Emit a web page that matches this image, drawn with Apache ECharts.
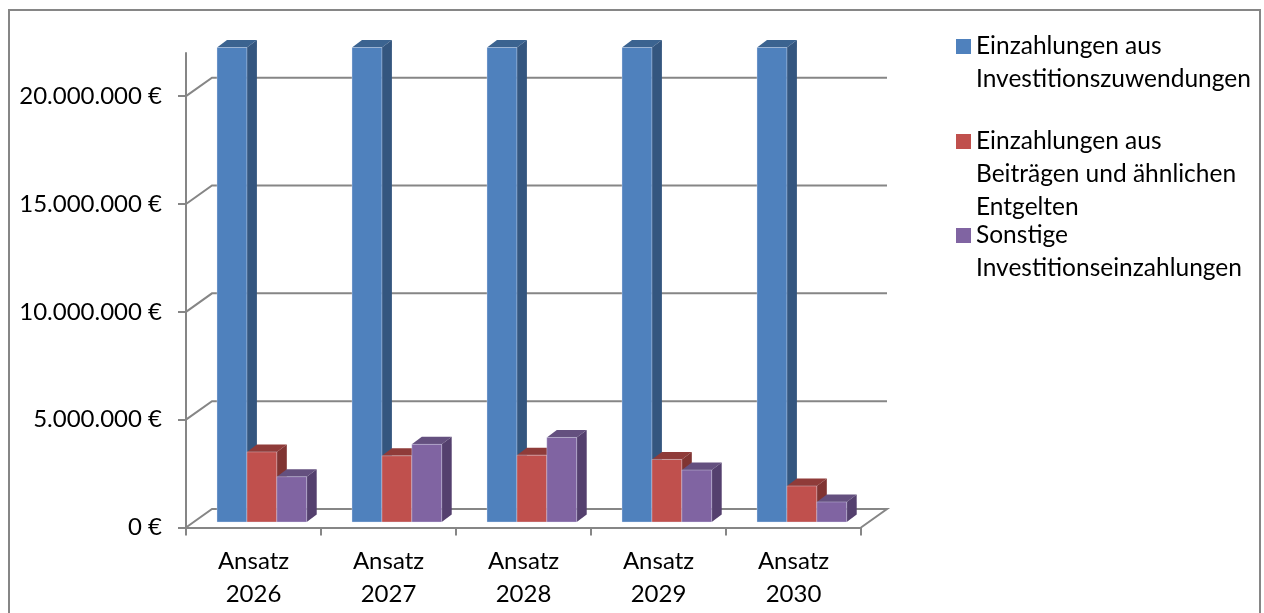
<!DOCTYPE html>
<html>
<head>
<meta charset="utf-8">
<style>html,body{margin:0;padding:0;background:#fff}#c{width:1264px;height:613px}</style>
<script src="https://cdn.jsdelivr.net/npm/echarts@6/dist/echarts.min.js"></script>
</head>
<body>
<div id="c"></div>
<script>
const categories = ['Ansatz\n2026','Ansatz\n2027','Ansatz\n2028','Ansatz\n2029','Ansatz\n2030'];
const zuwendungen = [22000000,22000000,22000000,22000000,22000000];
const beitraege = [3250000,3070000,3100000,2900000,1670000];
const sonstige = [2100000,3600000,3920000,2410000,930000];
const yTicks = [0,5000000,10000000,15000000,20000000];
const seriesNames = ['Einzahlungen aus Investitionszuwendungen','Einzahlungen aus Beiträgen und ähnlichen Entgelten','Sonstige Investitionseinzahlungen'];
const legendLines = [['Einzahlungen aus','Investitionszuwendungen'],['Einzahlungen aus','Beiträgen und ähnlichen','Entgelten'],['Sonstige','Investitionseinzahlungen']];

const FONT = 'Lato';
const FS = 24;
const LEGEND_FS = 24.5;
const LINE = 33;
const GRAY = '#868686';
const chart = echarts.init(document.getElementById('c'), null, {renderer:'canvas'});

const palette = [
  {face:'#4F81BD', side:'#34567F', top:'#3B6390'},
  {face:'#C0504D', side:'#803432', top:'#8F3B39'},
  {face:'#8064A2', side:'#54406E', top:'#64507F'}
];
const WALL = [26, -18.5], FLOOR_SHIFT = -5.5, DX = 10, DY = -7.5;

function barSeries(idx, values){
  const c = palette[idx];
  return {
    type:'custom', name:seriesNames[idx], coordinateSystem:'cartesian2d',
    itemStyle:{color:c.face}, clip:false, z:3+idx,
    encode:{x:0,y:1},
    data:values.map((v,i)=>[i,v]),
    renderItem(params, api){
      const base = api.coord([api.value(0),0]);
      const tip = api.coord([api.value(0),api.value(1)]);
      const band = api.size([1,0])[0];
      const w = band*0.2215;
      const x = base[0]-band/2 + band*0.2297 + idx*w;
      const y1 = base[1]+FLOOR_SHIFT, y0 = tip[1]+FLOOR_SHIFT;
      return {type:'group',children:[
        {type:'polygon',shape:{points:[[x,y0],[x+DX,y0+DY],[x+w+DX,y0+DY],[x+w,y0]]},style:{fill:c.top}},
        {type:'polygon',shape:{points:[[x+w,y0],[x+w+DX,y0+DY],[x+w+DX,y1+DY],[x+w,y1]]},style:{fill:c.side}},
        {type:'rect',shape:{x:x,y:y0,width:w,height:y1-y0},style:{fill:c.face,stroke:'rgba(225,232,245,0.35)',lineWidth:1}}
      ]};
    }
  };
}

const wallSeries = {
  type:'custom', name:'Raster', coordinateSystem:'cartesian2d', silent:true, clip:false, z:1,
  encode:{y:0},
  data:yTicks.map(v=>[v]),
  renderItem(params, api){
    const val = api.value(0);
    const p = api.coord([0,val]);
    const band = api.size([1,0])[0];
    const x0 = p[0]-band/2, x1 = x0+band*categories.length;
    const pts = [[x0,p[1]],[x0+WALL[0],p[1]+WALL[1]],[x1+WALL[0],p[1]+WALL[1]]];
    if(val===0) pts.push([x1,p[1]]);
    return {type:'polyline',shape:{points:pts},style:{stroke:GRAY,lineWidth:2,fill:null}};
  }
};

// The legend centres a multi-line label on its icon, so blank lines in front keep the icon beside the first line.
function legendAt(i, iconCentre){
  const n = legendLines[i].length;
  const total = 2*n-1;
  return {
    left:956, top:iconCentre-total*LINE/2, orient:'vertical', padding:0,
    data:[{name:seriesNames[i],icon:'rect'}],
    itemWidth:15, itemHeight:15, itemGap:0, selectedMode:false,
    formatter:()=>new Array(n-1).fill(' ').concat(legendLines[i]).join('\n'),
    textStyle:{fontFamily:FONT,fontSize:LEGEND_FS,color:'#000',lineHeight:LINE}
  };
}

chart.setOption({
  animation:false,
  backgroundColor:'#fff',
  textStyle:{fontFamily:FONT},
  graphic:[{type:'rect',silent:true,z:0,shape:{x:9,y:10,width:1251,height:620},style:{fill:'none',stroke:GRAY,lineWidth:2}}],
  grid:{left:186,top:53,width:675,height:474.5,containLabel:false},
  xAxis:{type:'category',data:categories,
    axisLine:{show:true,lineStyle:{color:GRAY,width:2}},
    axisTick:{show:true,length:8,lineStyle:{color:GRAY,width:2}},
    axisLabel:{fontFamily:FONT,fontSize:FS,color:'#000',lineHeight:LINE,margin:17,interval:0},
    splitLine:{show:false}},
  yAxis:{type:'value',min:0,max:22000000,
    axisLine:{show:true,lineStyle:{color:GRAY,width:2}},
    axisTick:{show:true,length:8,customValues:yTicks,lineStyle:{color:GRAY,width:2}},
    axisLabel:{fontFamily:FONT,fontSize:FS,color:'#000',margin:24,customValues:yTicks,
      formatter:v=>String(v).replace(/\B(?=(\d{3})+$)/g,'.')+' €'},
    splitLine:{show:false}},
  legend:[legendAt(0,46.5),legendAt(1,141.5),legendAt(2,235.5)],
  series:[wallSeries,barSeries(0,zuwendungen),barSeries(1,beitraege),barSeries(2,sonstige)]
});
</script>
</body>
</html>
